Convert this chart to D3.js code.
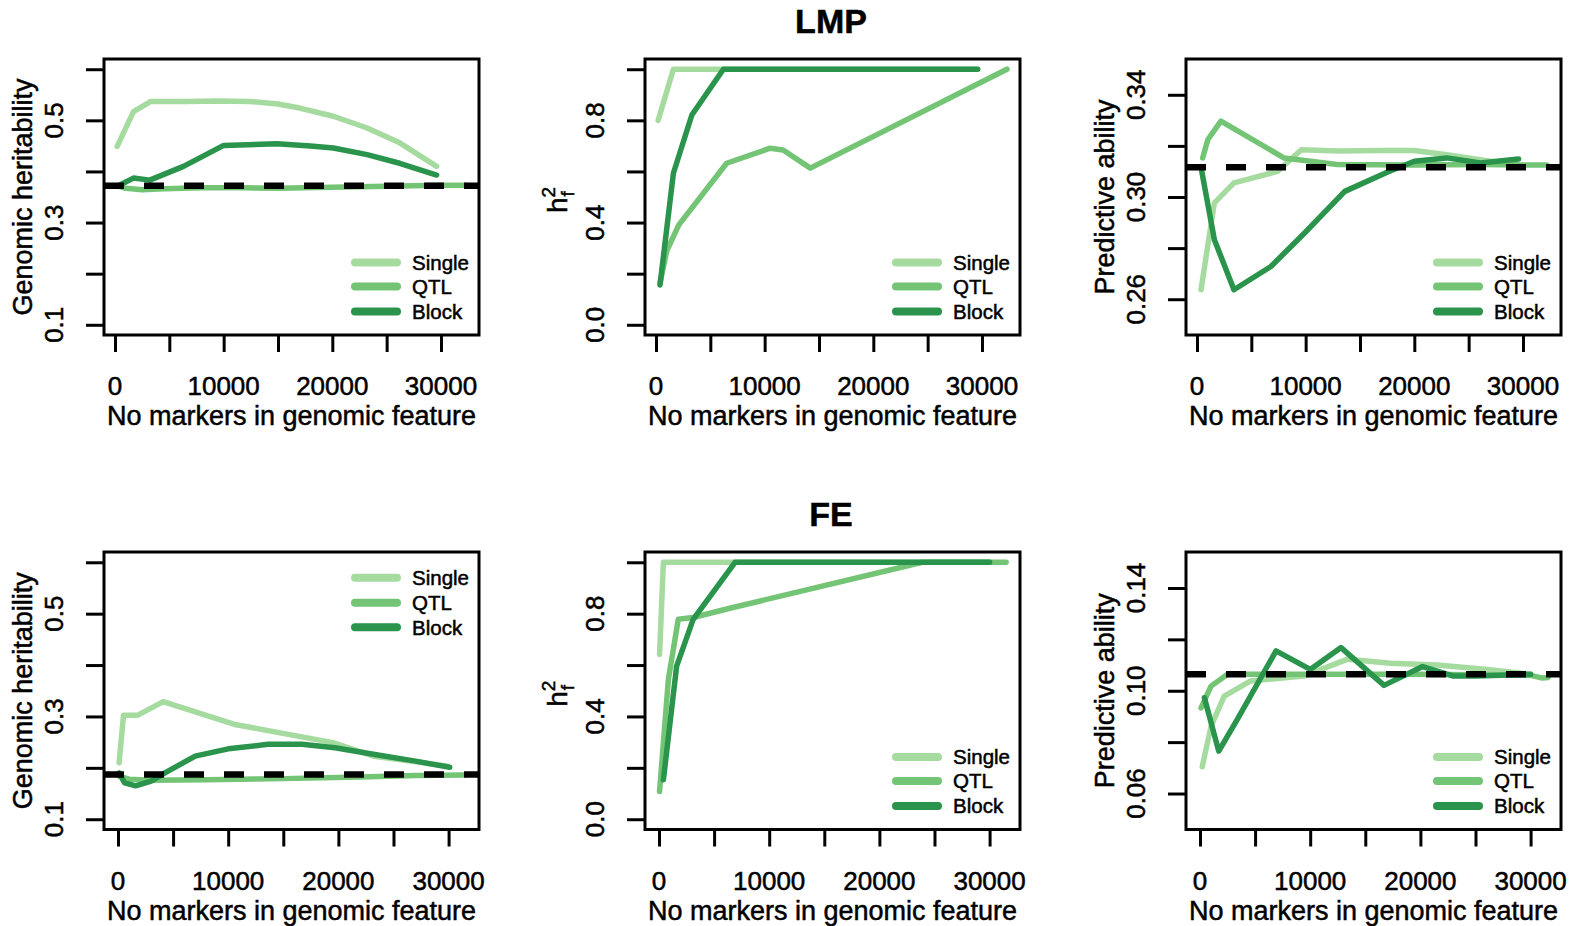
<!DOCTYPE html>
<html>
<head>
<meta charset="utf-8">
<script src="https://cdn.jsdelivr.net/npm/d3@7"></script>
<style>
  html, body { margin: 0; padding: 0; background: #fff; }
  svg { display: block; }
  text { font-family: "Liberation Sans", Arial, Helvetica, sans-serif; fill: #000; stroke: #000; stroke-width: 0.5px; }
</style>
</head>
<body>
<svg id="chart" width="1576" height="926"></svg>
<script>
// ---------------- DATA ----------------
const seriesNames = ["Single", "QTL", "Block"];
const seriesColors = ["#a6dba0", "#74c476", "#2a944c"];
const groupTitles = ["LMP", "FE"];
const xTicks = [0, 5000, 10000, 15000, 20000, 25000, 30000];
const xTickLabels = [0, 10000, 20000, 30000];
const xTitle = "No markers in genomic feature";
const yTitleHer = "Genomic heritability";
const yTitlePred = "Predictive ability";

// heritability axes
const herTicks = [0.1, 0.2, 0.3, 0.4, 0.5, 0.6];
const herTickLabels = [0.1, 0.3, 0.5];
const hfTicks = [0.0, 0.2, 0.4, 0.6, 0.8, 1.0];
const hfTickLabels = [0.0, 0.4, 0.8];
const lmpPredTicks = [0.26, 0.28, 0.30, 0.32, 0.34];
const lmpPredTickLabels = [0.26, 0.30, 0.34];
const fePredTicks = [0.06, 0.08, 0.10, 0.12, 0.14];
const fePredTickLabels = [0.06, 0.10, 0.14];

// LMP — genomic heritability
const lmpHerSingle = [[200,0.449],[1700,0.517],[3300,0.537],[6500,0.537],[9500,0.538],[12400,0.537],[15000,0.532],[17000,0.524],[20100,0.508],[23200,0.485],[26200,0.456],[29600,0.410]];
const lmpHerQTL = [[200,0.372],[1000,0.367],[2500,0.364],[4500,0.366],[8000,0.368],[12000,0.368],[15000,0.367],[20000,0.369],[25000,0.371],[30000,0.373],[32300,0.373]];
const lmpHerBlock = [[200,0.371],[1700,0.387],[3200,0.383],[6300,0.410],[10000,0.451],[14900,0.454],[18000,0.450],[20100,0.446],[23200,0.433],[26200,0.416],[29600,0.393]];
const lmpHerBase = 0.372;

// LMP — h2f
const lmpHfSingle = [[200,0.80],[1600,1.0],[29600,1.0]];
const lmpHfQTL = [[370,0.163],[1000,0.29],[2100,0.391],[6500,0.632],[10500,0.691],[11700,0.684],[14200,0.613],[32300,1.0]];
const lmpHfBlock = [[370,0.156],[1600,0.593],[3300,0.821],[6200,1.0],[29600,1.0]];

// LMP — predictive ability
const lmpPredSingle = [[370,0.2637],[1600,0.2977],[3400,0.3055],[7400,0.3100],[9600,0.3185],[13000,0.3180],[17000,0.3182],[20000,0.3182],[23000,0.3165],[27000,0.3140],[29600,0.3125]];
const lmpPredQTL = [[520,0.3153],[1000,0.3225],[2200,0.3297],[8000,0.3153],[12900,0.3127],[20000,0.3125],[26000,0.3127],[32200,0.3125]];
const lmpPredBlock = [[370,0.3116],[1600,0.2833],[3400,0.2637],[6800,0.2728],[9900,0.2859],[13600,0.3022],[17500,0.3097],[20000,0.3140],[23000,0.3153],[26100,0.3133],[29600,0.3149]];
const lmpPredBase = 0.3116;

// FE — genomic heritability
const feHerSingle = [[100,0.210],[500,0.3025],[1800,0.3025],[4100,0.3287],[10500,0.2849],[19500,0.249],[23200,0.2227],[27000,0.212],[29900,0.203]];
const feHerQTL = [[100,0.184],[1000,0.178],[3000,0.176],[8000,0.177],[15000,0.179],[22000,0.182],[27000,0.185],[31500,0.186]];
const feHerBlock = [[100,0.190],[600,0.1706],[1600,0.165],[3000,0.174],[4500,0.193],[7000,0.2227],[10000,0.237],[13600,0.2457],[16700,0.2457],[19700,0.239],[23300,0.226],[27000,0.213],[30100,0.201]];
const feHerBase = 0.187;

// FE — h2f
const feHfSingle = [[50,0.642],[400,1.0],[29900,1.0]];
const feHfQTL = [[50,0.108],[850,0.544],[1750,0.778],[3100,0.785],[6700,0.824],[23900,1.0],[31500,1.0]];
const feHfBlock = [[400,0.1535],[1600,0.596],[3100,0.778],[6900,1.0],[30000,1.0]];

// FE — predictive ability
const fePredSingle = [[200,0.0704],[1000,0.0861],[2200,0.0979],[4600,0.1038],[9400,0.1057],[13400,0.1123],[17300,0.1107],[21500,0.1100],[26100,0.1083],[30000,0.1064]];
const fePredQTL = [[100,0.0933],[1000,0.1018],[2500,0.1064],[10000,0.1064],[20000,0.1064],[30000,0.1060],[31000,0.1050],[31600,0.1052]];
const fePredBlock = [[400,0.0973],[1700,0.0765],[3400,0.0890],[6900,0.1155],[10000,0.1083],[12800,0.1168],[16700,0.1021],[20200,0.1094],[23000,0.1057],[25000,0.1057],[30000,0.1064]];
const fePredBase = 0.1064;

// ---------------- LAYOUT ----------------
const colLeft = [104, 645, 1186];
const boxW = 375;
const rowTop = [59, 552];
const boxH = [276, 277.5];
const xDomainRow = [[-1012, 33500], [-1270, 32760]];

const panels = [
  {row:0, col:0, yTitle:yTitleHer, yDom:[0.08,0.62], ticks:herTicks, labels:herTickLabels, fmt:d3.format(".1f"), data:[lmpHerSingle,lmpHerQTL,lmpHerBlock], base:lmpHerBase, legend:"bottom"},
  {row:0, col:1, yTitle:"hf", yDom:[-0.04,1.04], ticks:hfTicks, labels:hfTickLabels, fmt:d3.format(".1f"), data:[lmpHfSingle,lmpHfQTL,lmpHfBlock], base:null, legend:"bottom"},
  {row:0, col:2, yTitle:yTitlePred, yDom:[0.246,0.354], ticks:lmpPredTicks, labels:lmpPredTickLabels, fmt:d3.format(".2f"), data:[lmpPredSingle,lmpPredQTL,lmpPredBlock], base:lmpPredBase, legend:"bottom"},
  {row:1, col:0, yTitle:yTitleHer, yDom:[0.08,0.62], ticks:herTicks, labels:herTickLabels, fmt:d3.format(".1f"), data:[feHerSingle,feHerQTL,feHerBlock], base:feHerBase, legend:"top"},
  {row:1, col:1, yTitle:"hf", yDom:[-0.04,1.04], ticks:hfTicks, labels:hfTickLabels, fmt:d3.format(".1f"), data:[feHfSingle,feHfQTL,feHfBlock], base:null, legend:"bottom"},
  {row:1, col:2, yTitle:yTitlePred, yDom:[0.046,0.154], ticks:fePredTicks, labels:fePredTickLabels, fmt:d3.format(".2f"), data:[fePredSingle,fePredQTL,fePredBlock], base:fePredBase, legend:"bottom"}
];

const svg = d3.select("#chart");
svg.append("rect").attr("width",1576).attr("height",926).attr("fill","#fff");

// group titles
groupTitles.forEach((t,i) => {
  svg.append("text").attr("x", 831).attr("y", 33 + i*493)
    .attr("text-anchor","middle").attr("font-size",34).attr("font-weight","bold").text(t);
});

panels.forEach(p => {
  const L = colLeft[p.col], T = rowTop[p.row], R = L + boxW, B = T + boxH[p.row];
  const x = d3.scaleLinear().domain(xDomainRow[p.row]).range([L, R]);
  const y = d3.scaleLinear().domain(p.yDom).range([B, T]);
  const g = svg.append("g");

  const clipId = "clip" + p.row + p.col;
  g.append("clipPath").attr("id", clipId).append("rect")
    .attr("x", L).attr("y", T).attr("width", R-L).attr("height", B-T);

  const line = d3.line().x(d => x(d[0])).y(d => y(d[1]));
  const plot = g.append("g").attr("clip-path", `url(#${clipId})`);
  p.data.forEach((s,i) => {
    plot.append("path").datum(s).attr("d", line)
      .attr("fill","none").attr("stroke", seriesColors[i]).attr("stroke-width",5.5)
      .attr("stroke-linejoin","round").attr("stroke-linecap","round");
  });
  if (p.base !== null) {
    plot.append("path").datum([[xDomainRow[p.row][0], p.base],[xDomainRow[p.row][1], p.base]])
      .attr("d", line).attr("fill","none").attr("stroke","#000").attr("stroke-width",6.5)
      .attr("stroke-dasharray","20,20");
  }

  // axes
  const xAxis = d3.axisBottom(x).tickValues(xTicks).tickSize(17).tickSizeOuter(0).tickFormat("");
  const ax = g.append("g").attr("transform", `translate(0,${B})`).call(xAxis);
  ax.select(".domain").remove();
  ax.selectAll(".tick line").attr("stroke","#000").attr("stroke-width",3);

  const yAxis = d3.axisLeft(y).tickValues(p.ticks).tickSize(18).tickSizeOuter(0).tickFormat("");
  const ay = g.append("g").attr("transform", `translate(${L},0)`).call(yAxis);
  ay.select(".domain").remove();
  ay.selectAll(".tick line").attr("stroke","#000").attr("stroke-width",3);

  g.selectAll(".xl").data(xTickLabels).enter().append("text")
    .attr("x", d => x(d)).attr("y", B + 60).attr("text-anchor","middle")
    .attr("font-size",26).text(d => d);
  g.selectAll(".yl").data(p.labels).enter().append("text")
    .attr("transform", d => `translate(${L-41},${y(d)}) rotate(-90)`)
    .attr("text-anchor","middle").attr("font-size",26).text(d => p.fmt(d));

  g.append("rect").attr("x",L).attr("y",T).attr("width",R-L).attr("height",B-T)
    .attr("fill","none").attr("stroke","#000").attr("stroke-width",3);

  g.append("text").attr("x",(L+R)/2).attr("y",B+90).attr("text-anchor","middle")
    .attr("font-size",27).text(xTitle);
  if (p.yTitle === "hf") {
    const t = g.append("g").attr("transform", `translate(${L-78},${(T+B)/2 + 16}) rotate(-90)`);
    t.append("text").attr("x",0).attr("y",0).attr("font-size",28).text("h");
    t.append("text").attr("x",15.5).attr("y",-12).attr("font-size",19).text("2");
    t.append("text").attr("x",16.5).attr("y",7).attr("font-size",19).text("f");
  } else {
    g.append("text").attr("transform", `translate(${L-72},${(T+B)/2}) rotate(-90)`)
      .attr("text-anchor","middle").attr("font-size",27).text(p.yTitle);
  }

  const rows = p.legend === "bottom" ? [B-72.5, B-48.5, B-23.5] : [T+25.7, T+50.7, T+75.3];
  seriesNames.forEach((n,i) => {
    g.append("line").attr("x1", R-124).attr("x2", R-82).attr("y1", rows[i]).attr("y2", rows[i])
      .attr("stroke", seriesColors[i]).attr("stroke-width",8).attr("stroke-linecap","round");
    g.append("text").attr("x", R-67).attr("y", rows[i]).attr("dy","0.36em")
      .attr("font-size",20.5).text(n);
  });
});
</script>
</body>
</html>
